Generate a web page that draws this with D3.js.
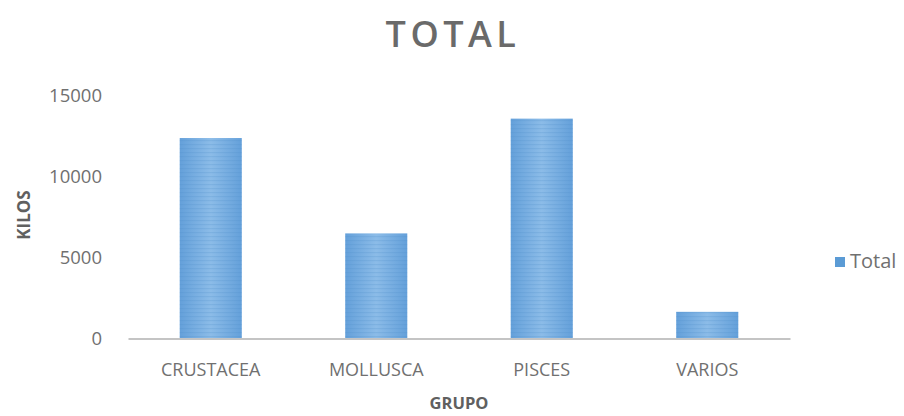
<!DOCTYPE html>
<html><head><meta charset="utf-8">
<script src="https://cdn.jsdelivr.net/npm/d3@7"></script>
<style>body{margin:0;background:#fff}svg{display:block}</style>
</head><body>
<script>
const categories = ["CRUSTACEA", "MOLLUSCA", "PISCES", "VARIOS"];
const totals = [12400, 6500, 13600, 1650];
const yTicks = [0, 5000, 10000, 15000];
const seriesName = "Total";
const titleText = "TOTAL";
const xTitle = "GRUPO";
const yTitle = "KILOS";

const W = 904, H = 416;
const m = {left:128, right:114, top:96, bottom:78};
const svg = d3.select("body").append("svg").attr("width", W).attr("height", H);
const font = "'Open Sans', sans-serif";
const grey = "#707070";

const defs = svg.append("defs");
const grad = defs.append("linearGradient").attr("id","bg").attr("x1","0").attr("x2","1").attr("y1","0").attr("y2","0");
grad.append("stop").attr("offset","0").attr("stop-color","#64a0da");
grad.append("stop").attr("offset","0.5").attr("stop-color","#8cbce8");
grad.append("stop").attr("offset","1").attr("stop-color","#64a0da");
const pat = defs.append("pattern").attr("id","stripes").attr("patternUnits","userSpaceOnUse").attr("width",8).attr("height",4);
pat.append("rect").attr("width",8).attr("height",1.3).attr("fill","#4f8cc9").attr("opacity",0.22);

const x = d3.scaleBand().domain(categories).range([m.left, W - m.right]).paddingInner(0.625).paddingOuter(0.3125);
const y = d3.scaleLinear().domain([0, 15000]).range([H - m.bottom + 0.5, m.top]);

// bars
const bars = svg.append("g");
bars.selectAll("rect.b").data(categories).join("rect").attr("class","b")
  .attr("x", d => x(d)).attr("width", x.bandwidth())
  .attr("y", (d,i) => y(totals[i])).attr("height", (d,i) => y(0) - y(totals[i]))
  .attr("fill", "url(#bg)");
bars.selectAll("rect.s").data(categories).join("rect").attr("class","s")
  .attr("x", d => x(d)).attr("width", x.bandwidth())
  .attr("y", (d,i) => y(totals[i])).attr("height", (d,i) => y(0) - y(totals[i]))
  .attr("fill", "url(#stripes)");

// x axis
const xa = svg.append("g").attr("transform", `translate(0,${y(0)})`)
  .call(d3.axisBottom(x).tickSize(0).tickPadding(25));
xa.select(".domain").attr("stroke","#c4c4c4").attr("stroke-width",2);
xa.selectAll("text").attr("font-family", font).attr("font-size", 18).attr("fill", grey);

// y axis
const ya = svg.append("g").attr("transform", `translate(${m.left - 26},0)`)
  .call(d3.axisLeft(y).tickValues(yTicks).tickSize(0).tickPadding(0).tickFormat(d3.format("d")));
ya.select(".domain").remove();
ya.selectAll("text").attr("font-family", font).attr("font-size", 18.5).attr("fill", grey);

// titles
svg.append("text").attr("x", 453).attr("y", 47).attr("text-anchor","middle")
  .attr("font-family", font).attr("font-size", 36).attr("font-weight", 600)
  .attr("letter-spacing", 4.5).attr("fill", "#6a6a6a").text(titleText);
svg.append("text").attr("x", (m.left + W - m.right)/2).attr("y", 409).attr("text-anchor","middle")
  .attr("font-family", font).attr("font-size", 16.5).attr("font-weight", 700).attr("fill", "#606060").text(xTitle);
svg.append("text").attr("transform", `translate(30,215) rotate(-90)`).attr("text-anchor","middle")
  .attr("font-family", font).attr("font-size", 17).attr("font-weight", 700).attr("fill", "#606060").text(yTitle);

// legend
const lg = svg.append("g").attr("transform","translate(835,257)");
lg.append("rect").attr("width",10).attr("height",10).attr("fill","#5b9bd5");
lg.append("text").attr("x",15).attr("y",11).attr("font-family", font).attr("font-size",20).attr("fill",grey).text(seriesName);
</script>
</body></html>
